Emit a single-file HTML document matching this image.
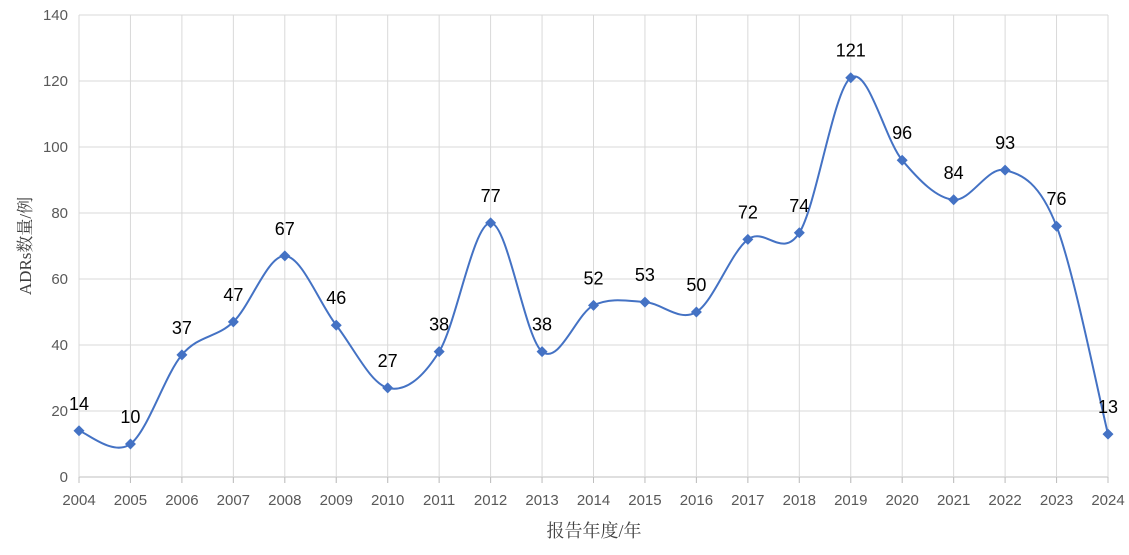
<!DOCTYPE html>
<html><head><meta charset="utf-8"><style>
body{margin:0;background:#fff;}
svg{display:block;font-family:"Liberation Sans","Noto Sans CJK SC",sans-serif;}
</style></head><body>
<svg id="chart" width="1129" height="555" viewBox="0 0 1129 555" xmlns="http://www.w3.org/2000/svg">
<g id="grid"></g>
<g id="axes"></g>
<path id="line" fill="none" stroke="#4472C4" stroke-width="2"></path>
<g id="marks"></g>
<g id="labels"></g>
<text transform="translate(31,246) rotate(-90)" text-anchor="middle" font-size="17" fill="#404040" font-family="'Liberation Serif','Noto Serif CJK SC',serif">ADRs数量/例</text>
<text x="594" y="537" text-anchor="middle" font-size="18" fill="#404040" font-family="'Liberation Serif','Noto Serif CJK SC',serif">报告年度/年</text>
</svg>
<script>
const years=[2004,2005,2006,2007,2008,2009,2010,2011,2012,2013,2014,2015,2016,2017,2018,2019,2020,2021,2022,2023,2024];
const values=[14,10,37,47,67,46,27,38,77,38,52,53,50,72,74,121,96,84,93,76,13];
const yTicks=[0,20,40,60,80,100,120,140];
const NS="http://www.w3.org/2000/svg";
const x0=79,x1=1108,yb=477,yt=15,ymax=140;
const xs=i=>x0+(x1-x0)*i/(years.length-1);
const ys=v=>yb-(yb-yt)*v/ymax;
function mk(tag,attrs,parent,txt){const e=document.createElementNS(NS,tag);for(const k in attrs)e.setAttribute(k,attrs[k]);if(txt!==undefined)e.textContent=txt;document.getElementById(parent).appendChild(e);return e;}
yTicks.forEach(t=>{
  const g=mk('line',{x1:x0,x2:x1,y1:ys(t),y2:ys(t),stroke:t===0?'#bfbfbf':'#d9d9d9','stroke-width':1},'grid');
  
  
  const l=mk('text',{x:68,y:ys(t)+5,'text-anchor':'end','font-size':15,fill:'#595959'},'axes',String(t));
  
  
});
years.forEach((y,i)=>{
  const g=mk('line',{x1:xs(i),x2:xs(i),y1:yt,y2:yb+6,stroke:'#d9d9d9','stroke-width':1},'grid');
  
  
  const tk=mk('line',{x1:xs(i),x2:xs(i),y1:yb,y2:yb+6,stroke:'#bfbfbf','stroke-width':1},'axes');
  
  
  const l=mk('text',{x:xs(i),y:505,'text-anchor':'middle','font-size':15,fill:'#595959'},'axes',String(y));
  
  
});
const pts=values.map((v,i)=>[xs(i),ys(v)]);
let d='M'+pts[0][0]+','+pts[0][1];
for(let i=0;i<pts.length-1;i++){
  const p0=pts[Math.max(0,i-1)],p1=pts[i],p2=pts[i+1],p3=pts[Math.min(pts.length-1,i+2)];
  const c1=[p1[0]+(p2[0]-p0[0])/6,p1[1]+(p2[1]-p0[1])/6];
  const c2=[p2[0]-(p3[0]-p1[0])/6,p2[1]-(p3[1]-p1[1])/6];
  d+=` C${c1[0]},${c1[1]} ${c2[0]},${c2[1]} ${p2[0]},${p2[1]}`;
}
document.getElementById('line').setAttribute('d',d);
values.forEach((v,i)=>{
  const x=xs(i),y=ys(v);
  const m=mk('polygon',{points:`${x},${y-5.5} ${x+5.5},${y} ${x},${y+5.5} ${x-5.5},${y}`,fill:'#4472C4'},'marks');
  
  
  const t=mk('text',{x:x,y:y-21,'text-anchor':'middle','font-size':18,fill:'#000'},'labels',String(v));
  
  
});
</script>
</body></html>
